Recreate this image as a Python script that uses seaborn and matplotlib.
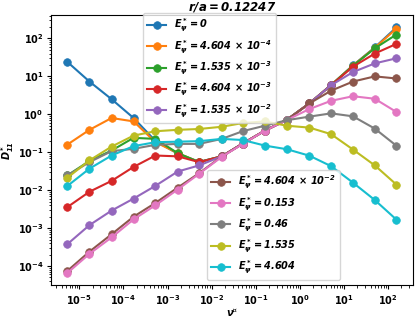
import matplotlib
matplotlib.use("Agg")
import matplotlib.pyplot as plt
import seaborn as sns
import pandas as pd

plt.rcParams['font.weight'] = 'bold'
plt.rcParams['axes.labelweight'] = 'bold'
plt.rcParams['axes.titleweight'] = 'bold'
try:
    plt.rcParams['mathtext.default'] = 'bfit'
except Exception:
    plt.rcParams['mathtext.default'] = 'bf'
plt.rcParams['font.size'] = 7

nu = [5.4e-6, 1.7e-5, 5.4e-5, 1.7e-4, 5.3e-4, 1.7e-3, 5.2e-3, 1.7e-2,
      5.1e-2, 0.16, 0.51, 1.65, 5.1, 16, 50, 155]

labels = [r"$E_\psi^* = 0$",
          r"$E_\psi^* = 4.604\,\times\,10^{-4}$",
          r"$E_\psi^* = 1.535\,\times\,10^{-3}$",
          r"$E_\psi^* = 4.604\,\times\,10^{-3}$",
          r"$E_\psi^* = 1.535\,\times\,10^{-2}$",
          r"$E_\psi^* = 4.604\,\times\,10^{-2}$",
          r"$E_\psi^* = 0.153$",
          r"$E_\psi^* = 0.46$",
          r"$E_\psi^* = 1.535$",
          r"$E_\psi^* = 4.604$"]

d_e0 = [23.9, 7.3, 2.5, 0.80, 0.20, 0.092, 0.056, 0.078, 0.17, 0.37, 0.72, 1.95, 5.9, 19.5, 58, 197]
d_e1 = [0.16, 0.39, 0.80, 0.65, 0.185, 0.095, 0.055, 0.078, 0.17, 0.37, 0.72, 1.95, 5.9, 19.3, 57, 182]
d_e2 = [0.0246, 0.059, 0.111, 0.24, 0.225, 0.095, 0.055, 0.078, 0.17, 0.37, 0.72, 1.95, 5.9, 19.0, 55, 127]
d_e3 = [0.0036, 0.0091, 0.0176, 0.041, 0.082, 0.078, 0.055, 0.078, 0.17, 0.37, 0.72, 1.95, 5.85, 18, 40, 72]
d_e4 = [0.00038, 0.0012, 0.0029, 0.0060, 0.013, 0.031, 0.045, 0.078, 0.17, 0.37, 0.72, 1.95, 5.85, 13, 22, 30]
d_e5 = [7.5e-5, 2.4e-4, 6.9e-4, 2.0e-3, 4.6e-3, 0.0117, 0.028, 0.078, 0.17, 0.37, 0.72, 1.94, 4.2, 7.3, 10, 8.8]
d_e6 = [6.6e-5, 2.1e-4, 5.7e-4, 1.7e-3, 4.0e-3, 0.0104, 0.027, 0.076, 0.166, 0.37, 0.71, 1.38, 2.27, 3.0, 2.57, 1.15]
d_e7 = [0.0246, 0.055, 0.107, 0.123, 0.157, 0.166, 0.166, 0.225, 0.36, 0.50, 0.70, 0.87, 1.06, 0.885, 0.42, 0.148]
d_e8 = [0.0214, 0.061, 0.141, 0.275, 0.358, 0.39, 0.41, 0.47, 0.59, 0.65, 0.50, 0.446, 0.30, 0.118, 0.045, 0.014]
d_e9 = [0.013, 0.037, 0.082, 0.145, 0.184, 0.19, 0.196, 0.225, 0.21, 0.15, 0.12, 0.081, 0.043, 0.0158, 0.0055, 0.00167]

series = [d_e0, d_e1, d_e2, d_e3, d_e4, d_e5, d_e6, d_e7, d_e8, d_e9]
colors = sns.color_palette("tab10", 10)

fig = plt.figure(figsize=(4.15, 3.19), dpi=100)
ax = fig.add_axes([0.123, 0.106, 0.872, 0.847])

for lab, vals, c in zip(labels, series, colors):
    df = pd.DataFrame({"nu": nu, "D": vals})
    sns.lineplot(data=df, x="nu", y="D", ax=ax, color=c, marker="o",
                 markersize=5.5, markeredgecolor=c, markeredgewidth=0.5,
                 linewidth=1.5, label=lab, legend=False)

ax.set_xscale("log")
ax.set_yscale("log")
ax.set_xlabel(r"$\nu'$", fontsize=7, labelpad=0)
ax.set_ylabel(r"$D_{11}^*$", fontsize=7, labelpad=1)
ax.set_title(r"$r/a = 0.12247$", fontsize=8.5, pad=3)
ax.tick_params(labelsize=7, length=3, pad=2.5)
ax.tick_params(which="minor", length=1.8)

handles = ax.get_lines()
h1, l1 = handles[:5], labels[:5]
h2, l2 = handles[5:], labels[5:]
leg1 = ax.legend(h1, l1, loc="upper left", bbox_to_anchor=(0.254, 1.007),
                 borderaxespad=0, fontsize=7, labelspacing=0.4)
ax.add_artist(leg1)
ax.legend(h2, l2, loc="lower left", bbox_to_anchor=(0.431, 0.018),
          borderaxespad=0, fontsize=7, labelspacing=0.4)

fig.savefig("out.png", dpi=100)
